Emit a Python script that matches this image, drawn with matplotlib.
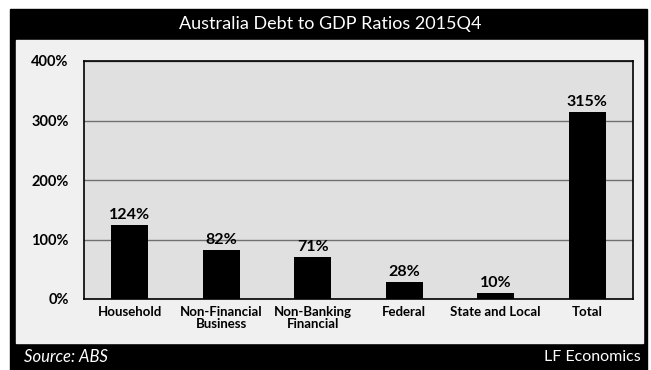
import matplotlib
matplotlib.use('Agg')
import matplotlib.pyplot as plt
from matplotlib.patches import Rectangle
import numpy as np

plt.rcParams['font.family'] = ['Lato', 'DejaVu Sans']

# data
categories = ['Household', 'Non-Financial\nBusiness', 'Non-Banking\nFinancial',
              'Federal', 'State and Local', 'Total']
ratios = [124, 82, 71, 28, 10, 315]
yticks = [0, 100, 200, 300, 400]

W, H = 651, 370
fig = plt.figure(figsize=(W / 100, H / 100), dpi=100)
fig.patch.set_facecolor('white')

# outer black frame, title bar and footer bar
bg = fig.add_axes([0, 0, 1, 1])
bg.set_xlim(0, W)
bg.set_ylim(H, 0)
bg.axis('off')
bg.add_patch(Rectangle((10, 9), 637, 361, color='black'))
bg.add_patch(Rectangle((16, 40), 627, 303, color='#f0f0f0'))
bg.text(330, 24, 'Australia Debt to GDP Ratios 2015Q4', color='white',
        fontsize=13, ha='center', va='center')
bg.text(24, 357, 'Source: ABS', color='white', fontsize=12,
        style='italic', ha='left', va='center')
bg.text(641, 357, 'LF Economics', color='white', fontsize=11.5,
        ha='right', va='center')

# plot area
ax = fig.add_axes([84 / W, 1 - 299 / H, (633 - 84) / W, (299 - 61) / H])
ax.set_facecolor('#e0e0e0')
x = np.arange(len(categories))
ax.bar(x, ratios, width=0.4, color='black', zorder=3)
for xi, v in zip(x, ratios):
    ax.text(xi, v + 5, f'{v}%', ha='center', va='bottom',
            fontsize=11.5, fontweight='bold', zorder=4)

ax.set_xlim(-0.5, len(categories) - 0.5)
ax.set_ylim(0, 400)
ax.set_yticks(yticks)
ax.set_yticklabels([f'{t}%' for t in yticks], fontsize=10.5, fontweight='bold')
ax.set_xticks(x)
ax.set_xticklabels(categories, fontsize=9.5, fontweight='bold', linespacing=1.05)
ax.tick_params(axis='x', length=0, pad=5)
ax.tick_params(axis='y', length=0, pad=11)
ax.grid(True, axis='y', color='#707070', linewidth=1, zorder=1)
for s in ax.spines.values():
    s.set_color('black')
    s.set_linewidth(1.2)

plt.savefig('out.png', dpi=100, facecolor='white')
